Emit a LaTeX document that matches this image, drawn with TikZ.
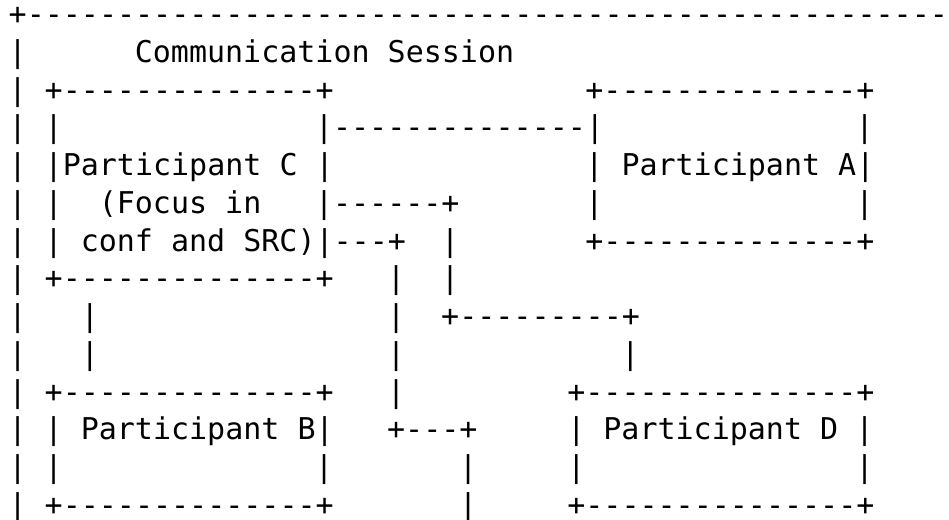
\documentclass[tikz,border=0pt]{standalone}
\usepackage{fontspec}
\setmonofont{DejaVu Sans Mono}
\tikzset{asc/.style={font=\ttfamily\fontsize{15}{18}\selectfont,inner sep=0pt,anchor=base west}}
\begin{document}
\begin{tikzpicture}[x=9.01pt,y=-18.865pt]
\useasboundingbox (-0.4606,0.345) rectangle (52.2,14.1);
\clip (-0.4606,0.345) rectangle (52.2,14.1);
% outer session frame
\node[asc] (top) at (0,1) {+---------------------------------------------------};
\foreach \r in {2,...,14}
  \node[asc] (side\r) at (0,\r) {|};
\node[asc] (title) at (7,2) {Communication Session};
% participant C
\node[asc] (Ctop) at (2,3) {+--------------+};
\node[asc] (Cl4) at (2,4) {|};
\node[asc] (C) at (2,5) {|Participant C |};
\node[asc] (Cl6) at (2,6) {|};
\node[asc] (Cfocus) at (5,6) {(Focus in};
\node[asc] (Cl7) at (2,7) {|};
\node[asc] (Csrc) at (4,7) {conf and SRC)|---+};
\node[asc] (Cbot) at (2,8) {+--------------+};
% participant A
\node[asc] (Atop) at (32,3) {+--------------+};
\node[asc] (CA) at (17,4) {|--------------|};
\node[asc] (Ar4) at (47,4) {|};
\node[asc] (A) at (32,5) {| Participant A|};
\node[asc] (CD) at (17,6) {|------+};
\node[asc] (Al6) at (32,6) {|};
\node[asc] (Ar6) at (47,6) {|};
\node[asc] (CDv7) at (24,7) {|};
\node[asc] (Abot) at (32,7) {+--------------+};
% links from C
\node[asc] (CBv8) at (21,8) {|};
\node[asc] (CDv8) at (24,8) {|};
\node[asc] (CBv9) at (4,9) {|};
\node[asc] (CRv9) at (21,9) {|};
\node[asc] (CDh) at (24,9) {+---------+};
\node[asc] (CBv10) at (4,10) {|};
\node[asc] (CRv10) at (21,10) {|};
\node[asc] (CDv10) at (34,10) {|};
\node[asc] (CRv11) at (21,11) {|};
\node[asc] (CRh) at (21,12) {+---+};
\node[asc] (CRv13) at (25,13) {|};
\node[asc] (CRv14) at (25,14) {|};
% participant B
\node[asc] (Btop) at (2,11) {+--------------+};
\node[asc] (Bl12) at (2,12) {|};
\node[asc] (B) at (4,12) {Participant B|};
\node[asc] (Bl13) at (2,13) {|};
\node[asc] (Br13) at (17,13) {|};
\node[asc] (Bbot) at (2,14) {+--------------+};
% participant D
\node[asc] (Dtop) at (31,11) {+---------------+};
\node[asc] (Dl12) at (31,12) {|};
\node[asc] (D) at (33,12) {Participant D};
\node[asc] (Dr12) at (47,12) {|};
\node[asc] (Dl13) at (31,13) {|};
\node[asc] (Dr13) at (47,13) {|};
\node[asc] (Dbot) at (31,14) {+---------------+};
\end{tikzpicture}
\end{document}
